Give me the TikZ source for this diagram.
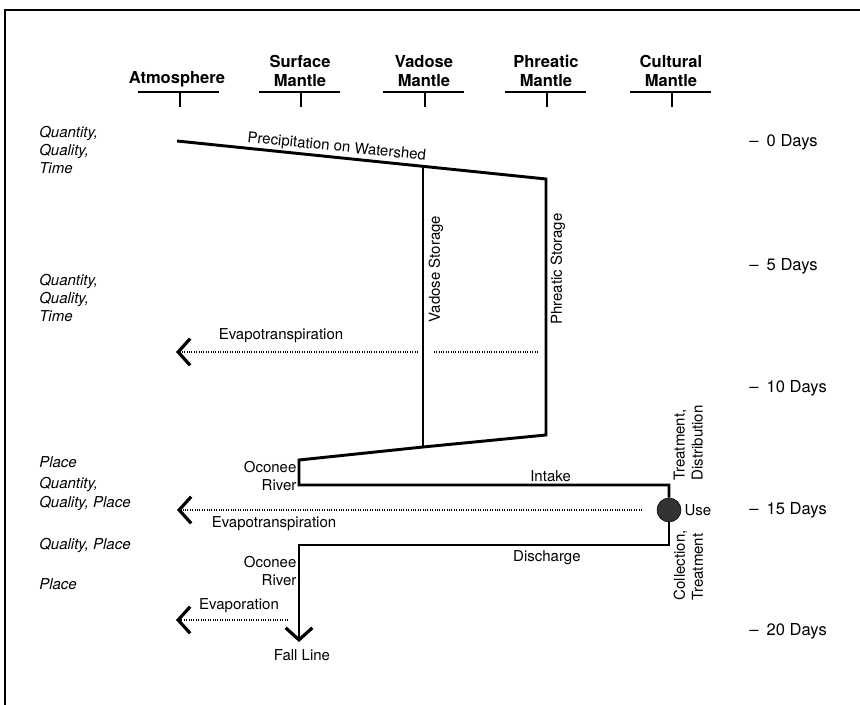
\documentclass[tikz,border=0pt]{standalone}
\usepackage{fontspec}
\setmainfont{TeX Gyre Heros}
\usetikzlibrary{positioning, arrows.meta}

\newcommand{\lblfont}{\fontsize{11.25}{13.6}\selectfont}
\newcommand{\hdrfont}{\fontsize{12.4}{14.2}\selectfont\bfseries}
\newcommand{\dayfont}{\fontsize{12.4}{14}\selectfont}

\begin{document}
\begin{tikzpicture}[x=0.75pt, y=-0.75pt,
    flow/.style={line width=2.2pt, line join=miter},
    evap/.style={line width=0.8pt, densely dotted},
    barb/.style={-{Straight Barb[length=9pt, width=20pt, line width=2.4pt]}},
    bar/.style={line width=2.2pt},
    stem/.style={line width=1.5pt},
    head/.style={font=\hdrfont, align=center, anchor=south, inner sep=1pt},
    side/.style={font=\lblfont\itshape, align=left, anchor=west, inner sep=0pt},
    lab/.style={font=\lblfont, inner sep=1pt},
    day/.style={font=\dayfont, anchor=west, inner sep=0pt},
    use/.style={circle, draw, fill=black!80, minimum size=18pt, inner sep=0pt}]
\useasboundingbox (0,0) rectangle (860,705);
\draw[line width=1.5pt] (5,705) -- (5,10) -- (860,10);

% column heads
\coordinate (atm) at (180,92);
\coordinate (sur) at (301,92);
\coordinate (vad) at (425,92);
\coordinate (phr) at (547,92);
\coordinate (cul) at (672,92);
\foreach \c in {atm, sur, vad, phr, cul} {
    \draw[bar] (\c) ++(-42,0) -- ++(81,0);
    \draw[stem] (\c) -- ++(0,15);
}
\node[head] (atmh) at (177,89) {Atmosphere};
\node[head] (surh) at (300,88) {Surface\\Mantle};
\node[head] (vadh) at (424,88) {Vadose\\Mantle};
\node[head] (phrh) at (546,88) {Phreatic\\Mantle};
\node[head] (culh) at (671,88) {Cultural\\Mantle};

% left column
\node[side] (s1) at (39,150) {Quantity,\\Quality,\\Time};
\node[side] (s2) at (39,298) {Quantity,\\Quality,\\Time};
\node[side] (s3) at (39,462) {Place};
\node[side] (s4) at (39,494) {Quantity,\\Quality, Place};
\node[side] (s5) at (39,546) {Quality, Place};
\node[side] (s6) at (39,584) {Place};

% time scale
\node[day] (d0) at (749,142) {--\hspace{0.5em}0 Days};
\node[day] (d5) at (749,266) {--\hspace{0.5em}5 Days};
\node[day] (d10) at (749,388) {--\hspace{0.5em}10 Days};
\node[day] (d15) at (749,510) {--\hspace{0.5em}15 Days};
\node[day] (d20) at (749,631) {--\hspace{0.5em}20 Days};

% water path
\coordinate (prec) at (177,141);
\coordinate (vad0) at (423,166);
\coordinate (phr0) at (546,179);
\coordinate (phr1) at (546,435);
\coordinate (vad1) at (423,447);
\coordinate (riv0) at (299,460);
\coordinate (riv1) at (299,485);
\coordinate (cul0) at (669,485);
\node[use] (use) at (669,510) {};
\coordinate (cul1) at (669,545);
\coordinate (riv2) at (299,545);
\coordinate (fall) at (299,642);

\draw[flow] (prec) -- node[lab, above, sloped, pos=0.43] (precl) {Precipitation on Watershed} (phr0)
    -- (phr1) -- (vad1) -- (riv0) -- (riv1)
    -- node[lab, above, pos=0.68] (intake) {Intake} (cul0) -- (use);
\draw[flow, barb] (use) -- (cul1)
    -- node[lab, below=2pt, pos=0.33] (disch) {Discharge} (riv2) -- (fall);
\draw[flow, line width=2pt] (vad0) -- (vad1);

\node[lab, rotate=90] (vadl) at (436,269) {Vadose Storage};
\node[lab, rotate=90] (phrl) at (558,269) {Phreatic Storage};
\node[lab, align=right, anchor=east] (riv1l) at (298,476) {Oconee\\River};
\node[lab, align=right, anchor=east] (riv2l) at (298,571) {Oconee\\River};
\node[lab] (falll) at (302,655) {Fall Line};
\node[lab, anchor=west] (usel) at (683,510) {Use};
\node[lab, rotate=90, align=left, anchor=north west] (treat) at (672,482) {Treatment,\\Distribution};
\node[lab, rotate=90, align=left, anchor=north west] (coll) at (672,602) {Collection,\\Treatment};

% losses to the atmosphere
\coordinate (ev1a) at (538,352);
\coordinate (ev1b) at (433,352);
\coordinate (ev1c) at (418,352);
\coordinate (ev1t) at (176,352);
\draw[evap] (ev1a) -- (ev1b);
\draw[evap, barb] (ev1c) -- (ev1t);
\node[lab] (ev1l) at (281,336) {Evapotranspiration};

\coordinate (ev2a) at (642,510);
\coordinate (ev2t) at (177,510);
\draw[evap, barb] (ev2a) -- (ev2t);
\node[lab] (ev2l) at (274,524) {Evapotranspiration};

\coordinate (ev3a) at (288,620);
\coordinate (ev3t) at (176,620);
\draw[evap, barb] (ev3a) -- (ev3t);
\node[lab] (ev3l) at (239,606) {Evaporation};
\end{tikzpicture}
\end{document}
